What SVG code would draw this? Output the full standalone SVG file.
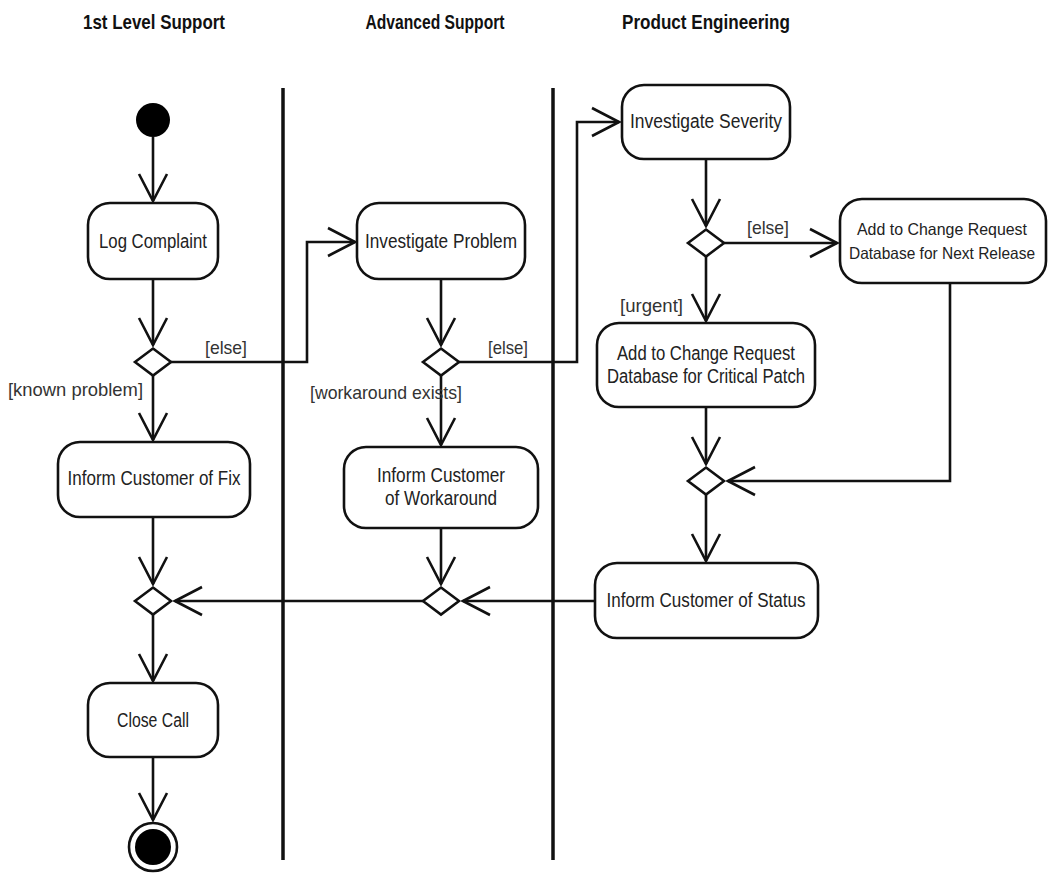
<svg xmlns="http://www.w3.org/2000/svg" width="1050" height="873" viewBox="0 0 1050 873">
<style>
.box{fill:#fff;stroke:#111;stroke-width:2.6}
.dia{fill:#fff;stroke:#111;stroke-width:2.6}
.t{font-family:"Liberation Sans",Arial,sans-serif;font-size:19.5px;fill:#222;text-anchor:middle}
.s{font-size:16.5px}
.l{font-family:"Liberation Sans",Arial,sans-serif;font-size:18.5px;fill:#333;text-anchor:start}
.h{font-family:"Liberation Sans",Arial,sans-serif;font-size:20.5px;font-weight:bold;fill:#111;text-anchor:middle}
.c{fill:none;stroke:#111;stroke-width:2.6;marker-end:url(#arr)}
.lane{stroke:#111;stroke-width:3.5}
</style>
<defs>
<marker id="arr" viewBox="-32 -17 34 34" refX="0" refY="0" markerWidth="34" markerHeight="34" markerUnits="userSpaceOnUse" orient="auto">
<path d="M-27,-14 L0,0 L-27,14" fill="none" stroke="#111" stroke-width="2.6"/>
</marker>
</defs>
<rect width="1050" height="873" fill="#fff"/>
<g id="headers">
<text class="h" x="154" y="29" textLength="142" lengthAdjust="spacingAndGlyphs">1st Level Support</text>
<text class="h" x="435" y="29" textLength="139" lengthAdjust="spacingAndGlyphs">Advanced Support</text>
<text class="h" x="706" y="29" textLength="168" lengthAdjust="spacingAndGlyphs">Product Engineering</text>
</g>
<g id="lanes">
<line class="lane" x1="283" y1="88" x2="283" y2="860"/>
<line class="lane" x1="553" y1="88" x2="553" y2="860"/>
</g>
<g id="connectors">
<path class="c" d="M153,137 V201"/>
<path class="c" d="M153,279 V345"/>
<path class="c" d="M153,375 V440"/>
<path class="c" d="M171,362 H307 V242 H355"/>
<path class="c" d="M153,517 V584"/>
<path class="c" d="M153,614 V681"/>
<path class="c" d="M153,757 V820"/>
<path class="c" d="M441,279 V345"/>
<path class="c" d="M441,375 V445"/>
<path class="c" d="M459,362 H577 V122 H619"/>
<path class="c" d="M441,528 V584"/>
<path class="c" d="M595,601 H463"/>
<path class="c" d="M423,601 H175"/>
<path class="c" d="M706,159 V226"/>
<path class="c" d="M724,243 H837"/>
<path class="c" d="M706,257 V321"/>
<path class="c" d="M706,407 V464"/>
<path class="c" d="M950,283 V481 H728"/>
<path class="c" d="M706,495 V561"/>
<text class="l" x="205" y="354" textLength="42" lengthAdjust="spacingAndGlyphs">[else]</text>
<text class="l" x="8" y="396" textLength="135" lengthAdjust="spacingAndGlyphs">[known problem]</text>
<text class="l" x="488" y="354" textLength="40" lengthAdjust="spacingAndGlyphs">[else]</text>
<text class="l" x="310" y="399" textLength="152" lengthAdjust="spacingAndGlyphs">[workaround exists]</text>
<text class="l" x="747" y="234" textLength="42" lengthAdjust="spacingAndGlyphs">[else]</text>
<text class="l" x="620" y="312" textLength="63" lengthAdjust="spacingAndGlyphs">[urgent]</text>
</g>
<g id="start"><circle cx="153" cy="120" r="17" fill="#000"/></g>
<g id="logComplaint">
<rect class="box" x="88" y="203" width="130" height="76" rx="22"/>
<text class="t" x="153" y="248" textLength="108" lengthAdjust="spacingAndGlyphs">Log Complaint</text>
</g>
<g id="decision1"><path class="dia" d="M153,348.5 L171,362 L153,375.5 L135,362 Z"/></g>
<g id="informFix">
<rect class="box" x="58" y="442" width="192" height="75" rx="22"/>
<text class="t" x="154" y="485" textLength="173" lengthAdjust="spacingAndGlyphs">Inform Customer of Fix</text>
</g>
<g id="merge1"><path class="dia" d="M153,587.5 L171,601 L153,614.5 L135,601 Z"/></g>
<g id="closeCall">
<rect class="box" x="88" y="683" width="130" height="74" rx="22"/>
<text class="t" x="153" y="727" textLength="72" lengthAdjust="spacingAndGlyphs">Close Call</text>
</g>
<g id="end">
<circle cx="153" cy="847" r="24" fill="#fff" stroke="#111" stroke-width="2.6"/>
<circle cx="153" cy="847" r="18" fill="#000"/>
</g>
<g id="investigateProblem">
<rect class="box" x="357" y="203" width="168" height="76" rx="22"/>
<text class="t" x="441" y="248" textLength="152" lengthAdjust="spacingAndGlyphs">Investigate Problem</text>
</g>
<g id="decision2"><path class="dia" d="M441,348.5 L459,362 L441,375.5 L423,362 Z"/></g>
<g id="informWorkaround">
<rect class="box" x="344" y="447" width="194" height="81" rx="22"/>
<text class="t" x="441" y="482" textLength="128" lengthAdjust="spacingAndGlyphs">Inform Customer</text>
<text class="t" x="441" y="505" textLength="112" lengthAdjust="spacingAndGlyphs">of Workaround</text>
</g>
<g id="merge2"><path class="dia" d="M441,587.5 L459,601 L441,614.5 L423,601 Z"/></g>
<g id="investigateSeverity">
<rect class="box" x="622" y="85" width="168" height="74" rx="22"/>
<text class="t" x="706" y="128" textLength="152" lengthAdjust="spacingAndGlyphs">Investigate Severity</text>
</g>
<g id="decision3"><path class="dia" d="M706,229.5 L724,243 L706,256.5 L688,243 Z"/></g>
<g id="nextRelease">
<rect class="box" x="840" y="199" width="206" height="84" rx="22"/>
<text class="t s" x="942" y="235" textLength="170" lengthAdjust="spacingAndGlyphs">Add to Change Request</text>
<text class="t s" x="942" y="259" textLength="186" lengthAdjust="spacingAndGlyphs">Database for Next Release</text>
</g>
<g id="criticalPatch">
<rect class="box" x="597" y="323" width="218" height="84" rx="22"/>
<text class="t" x="706" y="360" textLength="178" lengthAdjust="spacingAndGlyphs">Add to Change Request</text>
<text class="t" x="706" y="383" textLength="198" lengthAdjust="spacingAndGlyphs">Database for Critical Patch</text>
</g>
<g id="merge3"><path class="dia" d="M706,467.5 L724,481 L706,494.5 L688,481 Z"/></g>
<g id="informStatus">
<rect class="box" x="595" y="563" width="223" height="75" rx="22"/>
<text class="t" x="706" y="607" textLength="199" lengthAdjust="spacingAndGlyphs">Inform Customer of Status</text>
</g>
</svg>
